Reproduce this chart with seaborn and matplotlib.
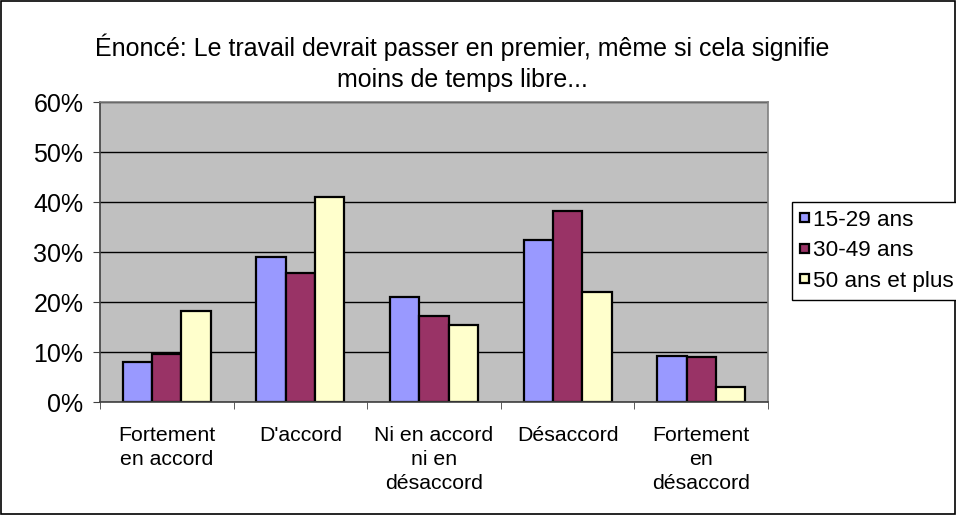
import numpy as np
import pandas as pd
import matplotlib
matplotlib.use("Agg")
import matplotlib.pyplot as plt
import seaborn as sns
from matplotlib.ticker import PercentFormatter
from matplotlib.patches import Rectangle

# Data
categories = ["Fortement\nen accord", "D'accord", "Ni en accord\nni en\ndésaccord",
              "Désaccord", "Fortement\nen\ndésaccord"]
groups = ["15-29 ans", "30-49 ans", "50 ans et plus"]
age_15_29 = [8.1, 29.1, 21.1, 32.5, 9.3]
age_30_49 = [9.7, 25.9, 17.2, 38.2, 9.1]
age_50_plus = [18.3, 41.1, 15.5, 22.1, 3.1]
colors = ["#9999FF", "#993366", "#FFFFCC"]

data = pd.DataFrame({
    "categorie": categories * 3,
    "groupe": [g for g in groups for _ in categories],
    "valeur": age_15_29 + age_30_49 + age_50_plus,
})

plt.rcParams["font.family"] = ["Liberation Sans", "DejaVu Sans"]

fig = plt.figure(figsize=(9.56, 5.15), dpi=100)
ax = fig.add_axes([100 / 956, 1 - 402 / 515, 668 / 956, 300 / 515])
ax.set_facecolor("#C0C0C0")

sns.barplot(data=data, x="categorie", y="valeur", hue="groupe",
            palette=colors, width=0.66, gap=0, edgecolor="black",
            linewidth=1.6, saturation=1, legend=False, ax=ax)

ax.set_ylim(0, 60)
ax.set_xlim(-0.5, 4.5)
ax.set_yticks(np.arange(0, 61, 10))
ax.yaxis.set_major_formatter(PercentFormatter(decimals=0))
ax.yaxis.grid(True, color="black", linewidth=1)
ax.set_axisbelow(True)
ax.set_xlabel("")
ax.set_ylabel("")

# category labels at centers, tick marks at boundaries
ax.set_xticks(range(len(categories)))
ax.set_xticklabels(categories, fontsize=15.3, linespacing=1.33, va="top")
ax.set_xticks(np.arange(-0.5, 5, 1), minor=True)
ax.tick_params(axis="x", which="major", length=0, pad=17)
ax.tick_params(axis="x", which="minor", length=5, direction="out", color="#404040")
ax.tick_params(axis="y", length=5, direction="out", labelsize=18, pad=7, color="#404040")

for side in ["left", "bottom"]:
    ax.spines[side].set_color("#404040")
    ax.spines[side].set_linewidth(1.2)
for side in ["top", "right"]:
    ax.spines[side].set_color("#808080")
    ax.spines[side].set_linewidth(1.2)

fig.text(462 / 956, 1 - 63 / 515,
         "Énoncé: Le travail devrait passer en premier, même si cela signifie\nmoins de temps libre...",
         ha="center", va="center", fontsize=18, linespacing=1.38)

handles = [Rectangle((0, 0), 1, 1, facecolor=c, edgecolor="black", linewidth=1.6) for c in colors]
leg = fig.legend(handles, groups, loc="upper left",
                 bbox_to_anchor=(792 / 956, 1 - 202 / 515),
                 fontsize=16.2, frameon=True, fancybox=False, framealpha=1,
                 edgecolor="black", handlelength=0.4, handleheight=0.24,
                 handletextpad=0.17, labelspacing=0.42, borderpad=0.35,
                 borderaxespad=0)
leg.get_frame().set_linewidth(1)

# outer chart border
fig.patches.append(Rectangle((0.001, 0.002), 0.998, 0.996, transform=fig.transFigure,
                             fill=False, edgecolor="black", linewidth=1.2))

fig.savefig("out.png", dpi=100)
